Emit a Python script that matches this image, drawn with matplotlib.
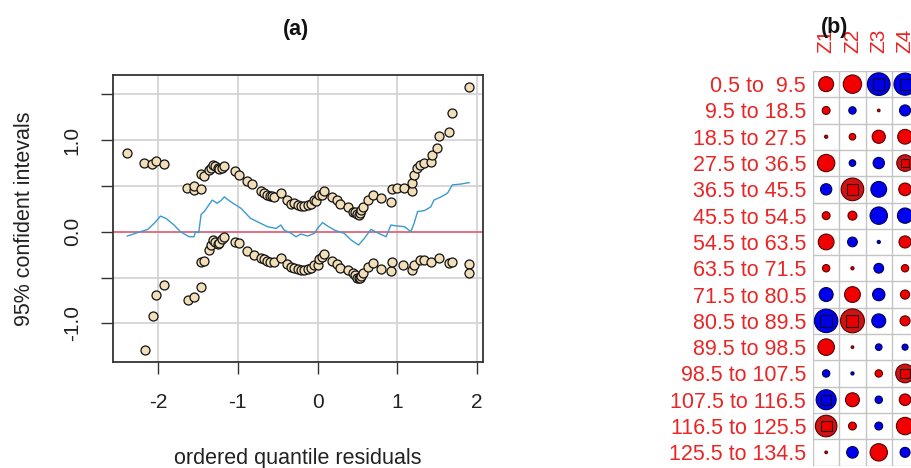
import numpy as np
import matplotlib
matplotlib.use("Agg")
import matplotlib.pyplot as plt
from matplotlib.patches import Circle, Rectangle

plt.rcParams['font.family'] = ['Liberation Sans', 'DejaVu Sans']
plt.rcParams['axes.unicode_minus'] = False

# ---- panel (a): worm-like plot data ----
x_upper = [-2.385, -2.176, -2.07, -2.03, -1.93, -1.64, -1.55, -1.55, -1.46, -1.46,
           -1.43, -1.36, -1.33, -1.305, -1.28, -1.25, -1.23, -1.2, -1.17, -1.03,
           -0.98, -0.88, -0.82, -0.71, -0.67, -0.63, -0.6, -0.57, -0.54, -0.46,
           -0.38, -0.33, -0.29, -0.25, -0.21, -0.17, -0.125, -0.08, -0.04, -0.02,
           0.02, 0.05, 0.075, 0.176, 0.25, 0.285, 0.377, 0.44, 0.47, 0.5,
           0.515, 0.53, 0.55, 0.565, 0.63, 0.70, 0.795, 0.92, 0.94, 1.0,
           1.08, 1.19, 1.19, 1.21, 1.25, 1.29, 1.34, 1.42, 1.43, 1.50,
           1.52, 1.65, 1.69, 1.90]
y_upper = [0.855, 0.745, 0.738, 0.775, 0.735, 0.48, 0.46, 0.50, 0.47, 0.63,
           0.61, 0.67, 0.70, 0.727, 0.72, 0.70, 0.68, 0.70, 0.716, 0.66,
           0.62, 0.556, 0.52, 0.44, 0.42, 0.40, 0.39, 0.385, 0.38, 0.42,
           0.345, 0.30, 0.31, 0.29, 0.28, 0.28, 0.29, 0.30, 0.345, 0.33,
           0.40, 0.40, 0.447, 0.375, 0.345, 0.30, 0.27, 0.22, 0.21, 0.19,
           0.18, 0.20, 0.24, 0.27, 0.345, 0.40, 0.37, 0.327, 0.47, 0.48,
           0.48, 0.447, 0.527, 0.62, 0.69, 0.727, 0.745, 0.764, 0.836, 0.909,
           1.04, 1.09, 1.30, 1.58]

x_lower = [-2.16, -2.06, -2.03, -1.93, -1.63, -1.55, -1.46, -1.46, -1.43, -1.36,
           -1.33, -1.305, -1.28, -1.25, -1.23, -1.2, -1.17, -1.03, -0.98, -0.88,
           -0.80, -0.71, -0.67, -0.63, -0.6, -0.54, -0.46, -0.38, -0.33, -0.29,
           -0.25, -0.21, -0.17, -0.125, -0.08, -0.04, 0.0, 0.02, 0.05, 0.075,
           0.176, 0.25, 0.285, 0.377, 0.44, 0.47, 0.5, 0.515, 0.53, 0.55,
           0.565, 0.63, 0.70, 0.795, 0.92, 0.94, 1.07, 1.19, 1.21, 1.28,
           1.34, 1.42, 1.52, 1.65, 1.69, 1.90, 1.90]
y_lower = [-1.29, -0.92, -0.69, -0.58, -0.745, -0.71, -0.60, -0.327, -0.32, -0.20,
           -0.14, -0.09, -0.11, -0.13, -0.12, -0.08, -0.055, -0.11, -0.127, -0.207,
           -0.255, -0.284, -0.30, -0.316, -0.33, -0.327, -0.29, -0.353, -0.39, -0.40,
           -0.41, -0.418, -0.42, -0.41, -0.40, -0.364, -0.36, -0.30, -0.28, -0.244,
           -0.316, -0.353, -0.40, -0.418, -0.455, -0.47, -0.50, -0.51, -0.50, -0.48,
           -0.455, -0.39, -0.345, -0.41, -0.425, -0.335, -0.364, -0.418, -0.364, -0.31,
           -0.31, -0.327, -0.284, -0.345, -0.327, -0.353, -0.455]

x_line = [-2.385, -2.26, -2.13, -2.05, -1.97, -1.90, -1.80, -1.72, -1.61, -1.55,
          -1.53, -1.49, -1.46, -1.42, -1.38, -1.32, -1.26, -1.21, -1.17, -1.09,
          -0.96, -0.84, -0.71, -0.63, -0.52, -0.46, -0.42, -0.33, -0.27, -0.21,
          -0.125, -0.04, 0.0, 0.063, 0.126, 0.21, 0.27, 0.335, 0.42, 0.515,
          0.586, 0.67, 0.75, 0.86, 0.92, 1.0, 1.09, 1.17, 1.21, 1.255,
          1.34, 1.42, 1.46, 1.55, 1.63, 1.69, 1.80, 1.90]
y_line = [-0.047, -0.011, 0.025, 0.09, 0.17, 0.145, 0.073, 0.0, -0.055, -0.055,
          0.0, -0.011, 0.19, 0.22, 0.27, 0.345, 0.31, 0.34, 0.38, 0.327,
          0.255, 0.145, 0.09, 0.055, 0.036, 0.073, 0.018, -0.018, -0.055, -0.025,
          -0.047, -0.018, 0.036, 0.10, 0.062, 0.018, 0.0, -0.018, -0.09, -0.145,
          -0.073, 0.025, -0.011, -0.055, 0.073, 0.062, 0.055, 0.0, 0.09, 0.22,
          0.23, 0.27, 0.345, 0.38, 0.42, 0.51, 0.52, 0.535]

x_ticks = [-2, -1, 0, 1, 2]
y_ticks = [-1.0, -0.5, 0.0, 0.5, 1.0, 1.5]
y_ticklabels = ['-1.0', '', '0.0', '', '1.0', '']

# ---- panel (b): correlation-style matrix ----
row_labels = ['0.5 to  9.5', '9.5 to 18.5', '18.5 to 27.5', '27.5 to 36.5',
              '36.5 to 45.5', '45.5 to 54.5', '54.5 to 63.5', '63.5 to 71.5',
              '71.5 to 80.5', '80.5 to 89.5', '89.5 to 98.5', '98.5 to 107.5',
              '107.5 to 116.5', '116.5 to 125.5', '125.5 to 134.5']
col_labels = ['Z1', 'Z2', 'Z3', 'Z4']
# circle diameter as a fraction of the cell
sizes = [[0.57, 0.70, 0.86, 0.84],
         [0.30, 0.28, 0.10, 0.42],
         [0.12, 0.25, 0.50, 0.56],
         [0.66, 0.25, 0.43, 0.63],
         [0.43, 0.86, 0.60, 0.48],
         [0.30, 0.34, 0.66, 0.58],
         [0.60, 0.37, 0.12, 0.46],
         [0.28, 0.12, 0.37, 0.28],
         [0.53, 0.60, 0.47, 0.35],
         [0.89, 0.91, 0.53, 0.38],
         [0.63, 0.10, 0.25, 0.23],
         [0.28, 0.12, 0.28, 0.71],
         [0.76, 0.53, 0.28, 0.44],
         [0.82, 0.30, 0.30, 0.66],
         [0.10, 0.44, 0.66, 0.38]]
# 1 = red, -1 = blue
signs = [[1, 1, -1, -1],
         [1, -1, 1, -1],
         [1, 1, 1, 1],
         [1, -1, -1, 1],
         [-1, 1, -1, 1],
         [1, 1, -1, -1],
         [1, -1, -1, 1],
         [1, 1, -1, 1],
         [-1, 1, -1, 1],
         [-1, 1, -1, 1],
         [1, 1, -1, -1],
         [-1, -1, 1, 1],
         [-1, 1, -1, 1],
         [1, 1, -1, 1],
         [1, -1, 1, -1]]
# cells that carry an inner square
marked = [(0, 2), (0, 3), (3, 3), (4, 1), (9, 0), (9, 1), (11, 3), (12, 0), (13, 0)]

label_red = '#E82626'

fig = plt.figure(figsize=(9.12, 4.68), dpi=100)

# ---------- (a) ----------
ax1 = fig.add_axes([113 / 912, 106 / 468, 370 / 912, 287 / 468])
ax1.set_xlim(-2.565, 2.075)
ax1.set_ylim(-1.421, 1.709)
ax1.grid(True, color='#D4D4D4', lw=1.3)
ax1.set_axisbelow(True)
ax1.axhline(0, color='#E36A7C', lw=1.3, zorder=2)
ax1.plot(x_line, y_line, color='#3A9AD0', lw=1.0, zorder=2)
ax1.scatter(x_upper, y_upper, s=42, facecolor='#F2DEB8', edgecolor='#111111', lw=0.9, zorder=3)
ax1.scatter(x_lower, y_lower, s=42, facecolor='#F2DEB8', edgecolor='#111111', lw=0.9, zorder=3)

ax1.set_xticks(x_ticks)
ax1.set_xticklabels([str(v) for v in x_ticks])
ax1.set_yticks(y_ticks)
ax1.set_yticklabels(y_ticklabels)
ax1.tick_params(direction='out', length=8.5, width=1.0, color='#333333',
                labelsize=15, pad=14, labelcolor='#222222')
ax1.tick_params(axis='y', labelrotation=90)
plt.setp(ax1.get_yticklabels(), va='center')
for sp in ax1.spines.values():
    sp.set_color('#333333')
    sp.set_linewidth(1.3)
ax1.set_xlabel('ordered quantile residuals', fontsize=15.5, labelpad=26, color='#222222')
ax1.set_ylabel('95% confident intevals', fontsize=15.5, labelpad=20, color='#222222')
fig.text(296 / 912, 1 - 30 / 468, '(a)', ha='center', va='center',
         fontsize=15.5, fontweight='bold', color='#111111')

# ---------- (b) ----------
nrow, ncol = len(row_labels), len(col_labels)
cell = 26.3
ax2 = fig.add_axes([813 / 912, (468 - 71 - nrow * cell) / 468,
                    ncol * cell / 912, nrow * cell / 468])
ax2.set_xlim(0, ncol)
ax2.set_ylim(nrow, 0)
for sp in ax2.spines.values():
    sp.set_visible(False)
for i in range(nrow + 1):
    ax2.axhline(i, color='#C4C4C4', lw=1.0, zorder=1)
for j in range(ncol + 1):
    ax2.axvline(j, color='#C4C4C4', lw=1.0, zorder=1)

for i in range(nrow):
    for j in range(ncol):
        d = sizes[i][j]
        red = signs[i][j] > 0
        has_sq = (i, j) in marked
        if red:
            fc = '#CC1414' if has_sq else '#F00000'
            ec = '#5A0000'
        else:
            fc = '#0000F0'
            ec = '#000050'
        ax2.add_patch(Circle((j + 0.5, i + 0.5), d / 2, facecolor=fc,
                             edgecolor=ec, lw=0.8, zorder=2))
        if has_sq:
            a = d * 0.5
            ax2.add_patch(Rectangle((j + 0.5 - a / 2, i + 0.5 - a / 2), a, a,
                                    facecolor='#E80000' if red else '#0000E0',
                                    edgecolor='#300000' if red else '#000030',
                                    lw=0.8, zorder=3))

ax2.set_yticks(np.arange(nrow) + 0.5)
ax2.set_yticklabels(row_labels)
ax2.set_xticks(np.arange(ncol) + 0.5)
ax2.set_xticklabels(col_labels, rotation=90)
ax2.xaxis.tick_top()
ax2.tick_params(axis='y', length=0, pad=5, labelsize=15.5, labelcolor=label_red)
ax2.tick_params(axis='x', length=0, pad=13, labelsize=15, labelcolor=label_red)
fig.text(835 / 912, 1 - 27 / 468, '(b)', ha='center', va='center',
         fontsize=15.5, fontweight='bold', color='#111111')

fig.savefig('out.png', dpi=100)
